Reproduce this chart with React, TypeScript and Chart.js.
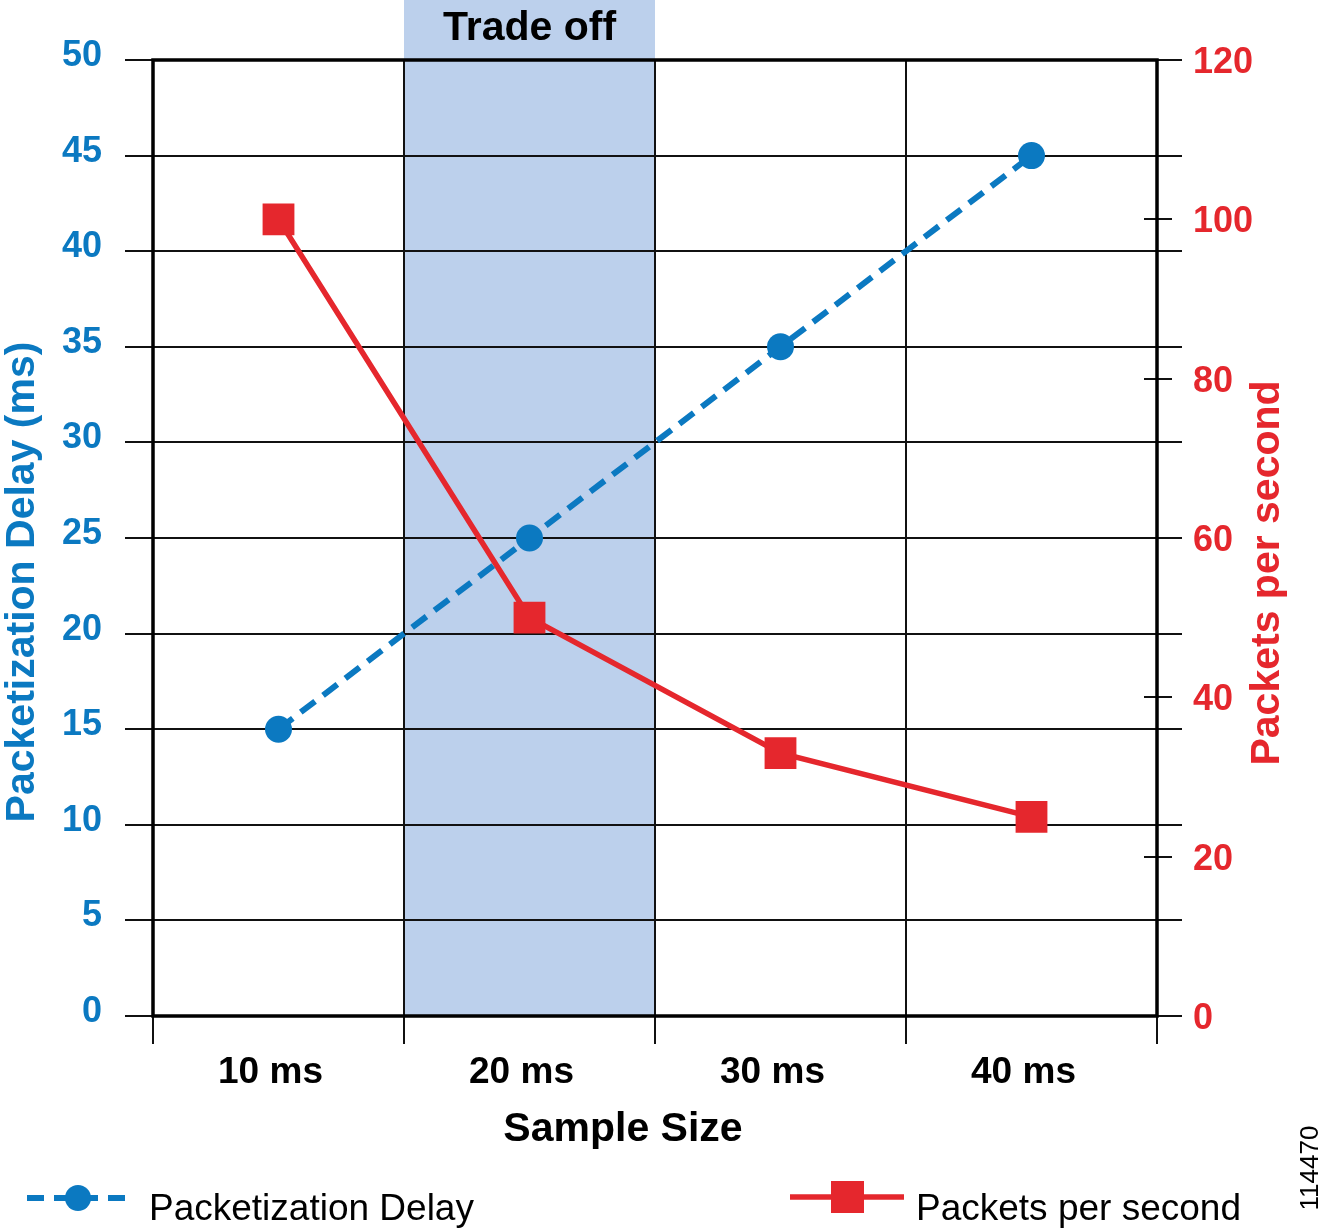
import React, { useEffect, useRef } from "react";
import { Chart, registerables } from "chart.js";

Chart.register(...registerables);

const categories = ["10 ms", "20 ms", "30 ms", "40 ms"];
const delayValues = [15, 25, 35, 45];
const packetsValues = [100, 50, 33, 25];
const delayTicks = { min: 0, max: 50, step: 5 };
const packetsTicks = { min: 0, max: 120, step: 20 };
const tradeOffCategory = "20 ms";
const tradeOffLabel = "Trade off";
const leftTitle = "Packetization Delay (ms)";
const rightTitle = "Packets per second";
const xTitle = "Sample Size";
const delayLabel = "Packetization Delay";
const packetsLabel = "Packets per second";
const figureId = "114470";

const BLUE = "#0b79c1";
const RED = "#e5272d";
const BAND = "#bcd0ec";
const FONT = "'Liberation Sans', Arial, Helvetica, sans-serif";

const decor = {
  id: "decor",
  beforeDraw(chart: any) {
    const { ctx, chartArea } = chart;
    const x = chart.scales.x;
    const idx = categories.indexOf(tradeOffCategory);
    const l = x.getPixelForValue(idx - 0.5);
    const r = x.getPixelForValue(idx + 0.5);
    ctx.save();
    ctx.fillStyle = BAND;
    ctx.fillRect(l, 0, r - l, chartArea.bottom);
    ctx.fillStyle = "#000";
    ctx.font = `bold 41px ${FONT}`;
    ctx.textAlign = "center";
    ctx.textBaseline = "middle";
    ctx.fillText(tradeOffLabel, (l + r) / 2, 29);
    ctx.restore();
  },
  beforeDatasetsDraw(chart: any) {
    const { ctx, chartArea } = chart;
    const { left, right, top, bottom } = chartArea;
    const x = chart.scales.x;
    const y = chart.scales.y;
    const y1 = chart.scales.y1;
    ctx.save();
    ctx.strokeStyle = "#111";
    ctx.lineWidth = 2;
    y.ticks.forEach((t: any) => {
      const py = Math.round(y.getPixelForValue(t.value));
      ctx.beginPath();
      ctx.moveTo(left - 28, py);
      ctx.lineTo(right + 25, py);
      ctx.stroke();
    });
    y1.ticks.forEach((t: any) => {
      const py = Math.round(y1.getPixelForValue(t.value));
      ctx.beginPath();
      ctx.moveTo(right - 13, py);
      ctx.lineTo(right + 15, py);
      ctx.stroke();
    });
    for (let i = 0; i <= categories.length; i++) {
      const px = Math.round(x.getPixelForValue(i - 0.5));
      ctx.beginPath();
      ctx.moveTo(px, top);
      ctx.lineTo(px, bottom + 28);
      ctx.stroke();
    }
    ctx.lineWidth = 3.5;
    ctx.strokeStyle = "#000";
    ctx.strokeRect(left, top, right - left, bottom - top);

    ctx.textAlign = "center";
    ctx.textBaseline = "middle";
    ctx.font = `bold 41px ${FONT}`;
    ctx.fillStyle = BLUE;
    ctx.save();
    ctx.translate(23, 582);
    ctx.rotate(-Math.PI / 2);
    ctx.fillText(leftTitle, 0, 0);
    ctx.restore();
    ctx.fillStyle = RED;
    ctx.save();
    ctx.translate(1268, 573);
    ctx.rotate(-Math.PI / 2);
    ctx.fillText(rightTitle, 0, 0);
    ctx.restore();
    ctx.fillStyle = "#000";
    ctx.fillText(xTitle, 623, 1130);

    ctx.font = `26px ${FONT}`;
    ctx.fillStyle = "#000";
    ctx.save();
    ctx.translate(1311, 1168);
    ctx.rotate(-Math.PI / 2);
    ctx.fillText(figureId, 0, 0);
    ctx.restore();
    ctx.restore();
  },
  afterDraw(chart: any) {
    const { ctx } = chart;
    ctx.save();
    const ly = 1198;
    ctx.strokeStyle = BLUE;
    ctx.lineWidth = 6;
    ctx.setLineDash([17, 10]);
    ctx.beginPath();
    ctx.moveTo(27, ly);
    ctx.lineTo(134, ly);
    ctx.stroke();
    ctx.setLineDash([]);
    ctx.fillStyle = BLUE;
    ctx.beginPath();
    ctx.arc(78, ly, 13, 0, Math.PI * 2);
    ctx.fill();
    const ry = 1197;
    ctx.strokeStyle = RED;
    ctx.lineWidth = 5.5;
    ctx.beginPath();
    ctx.moveTo(790, ry);
    ctx.lineTo(904, ry);
    ctx.stroke();
    ctx.fillStyle = RED;
    ctx.fillRect(831, ry - 16, 33, 32);

    ctx.fillStyle = "#000";
    ctx.font = `37px ${FONT}`;
    ctx.textAlign = "left";
    ctx.textBaseline = "alphabetic";
    ctx.fillText(delayLabel, 149, 1220);
    ctx.fillText(packetsLabel, 916, 1220);
    ctx.restore();
  },
};

export default function App() {
  const ref = useRef<HTMLCanvasElement>(null);
  useEffect(() => {
    document.body.style.margin = "0";
    const chart = new Chart(ref.current as HTMLCanvasElement, {
      type: "line",
      data: {
        labels: categories,
        datasets: [
          {
            label: delayLabel,
            data: delayValues,
            yAxisID: "y",
            borderColor: BLUE,
            backgroundColor: BLUE,
            borderWidth: 6,
            borderDash: [18, 10],
            pointStyle: "circle",
            pointRadius: 13.5,
            pointBorderWidth: 0,
            pointBackgroundColor: BLUE,
            tension: 0,
          },
          {
            label: packetsLabel,
            data: packetsValues,
            yAxisID: "y1",
            borderColor: RED,
            backgroundColor: RED,
            borderWidth: 5.5,
            pointStyle: "rect",
            pointRadius: 22.5,
            pointBorderWidth: 0,
            pointBackgroundColor: RED,
            tension: 0,
          },
        ],
      },
      options: {
        animation: false,
        responsive: false,
        layout: { padding: { top: 60, left: 0, right: 0, bottom: 0 } },
        plugins: { legend: { display: false }, tooltip: { enabled: false } },
        scales: {
          x: {
            type: "category",
            offset: true,
            grid: { display: true, drawOnChartArea: false, drawTicks: true, tickLength: 28, color: "rgba(0,0,0,0)" },
            border: { display: false },
            ticks: {
              color: "#000",
              font: { family: FONT, size: 37, weight: "bold" },
              padding: 7,
              labelOffset: -8,
              maxRotation: 0,
              autoSkip: false,
            },
            afterFit(scale: any) {
              scale.height = 213;
            },
          },
          y: {
            position: "left",
            min: delayTicks.min,
            max: delayTicks.max,
            grid: { display: true, drawOnChartArea: false, drawTicks: true, tickLength: 28, color: "rgba(0,0,0,0)" },
            border: { display: false },
            ticks: {
              stepSize: delayTicks.step,
              color: BLUE,
              font: { family: FONT, size: 36, weight: "bold" },
              padding: 23,
              labelOffset: -4,
            },
            afterFit(scale: any) {
              scale.width = 153;
            },
          },
          y1: {
            position: "right",
            min: packetsTicks.min,
            max: packetsTicks.max,
            grid: { display: true, drawOnChartArea: false, drawTicks: true, tickLength: 28, color: "rgba(0,0,0,0)" },
            border: { display: false },
            ticks: {
              stepSize: packetsTicks.step,
              color: RED,
              font: { family: FONT, size: 36, weight: "bold" },
              padding: 8,
              labelOffset: 3,
            },
            afterFit(scale: any) {
              scale.width = 168;
            },
          },
        },
      } as any,
      plugins: [decor],
    });
    return () => chart.destroy();
  }, []);
  return (
    <div style={{ width: 1325, height: 1229 }}>
      <canvas ref={ref} width={1325} height={1229} style={{ display: "block" }} />
    </div>
  );
}
